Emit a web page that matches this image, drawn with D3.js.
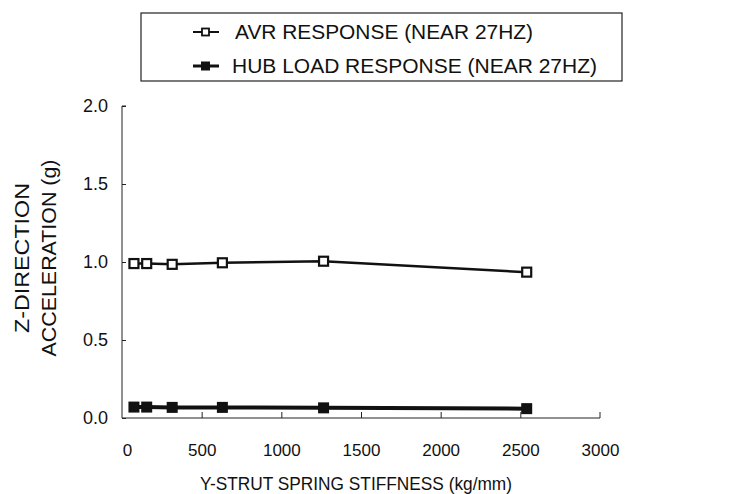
<!DOCTYPE html>
<html>
<head>
<meta charset="utf-8">
<script src="https://cdn.jsdelivr.net/npm/d3@7"></script>
<style>
  body { margin: 0; background: #fff; }
  svg { font-family: "Liberation Sans", Arial, sans-serif; }
</style>
</head>
<body>
<div id="chart"></div>
<script>
// values
var stiffness = [75, 155, 315, 630, 1265, 2540];
var avrResponse = [0.99, 0.99, 0.985, 0.995, 1.005, 0.935];
var hubResponse = [0.07, 0.07, 0.068, 0.068, 0.065, 0.06];
var xTicks = [0, 500, 1000, 1500, 2000, 2500, 3000];
var yTicks = [0, 0.5, 1.0, 1.5, 2.0];
var seriesNames = ["AVR RESPONSE (NEAR 27HZ)", "HUB LOAD RESPONSE (NEAR 27HZ)"];

var W = 729, H = 494;

var svg = d3.select("#chart").append("svg")
    .attr("width", W)
    .attr("height", H);

var x = d3.scaleLinear().domain([0, 3000]).range([122, 600]);
var y = d3.scaleLinear().domain([0, 2]).range([418, 106]);

// axes (ticks pointing inward)
var gx = svg.append("g")
    .attr("transform", "translate(0," + y(0) + ")")
    .call(d3.axisBottom(x).tickValues(xTicks).tickSize(-6).tickPadding(26).tickFormat(d3.format("d")));
gx.select(".domain").attr("d", "M" + x(0) + ",0H" + x(3000) + "V-6").attr("stroke", "#222");
gx.selectAll(".tick line").attr("stroke", "#222");
gx.selectAll(".tick").filter(function(d) { return d === 0 || d === 3000; }).select("line").remove();
gx.selectAll("text").style("font-size", "17px").attr("fill", "#111");
gx.selectAll(".tick").filter(function(d) { return d === 0; }).select("text").attr("x", 5);

var gy = svg.append("g")
    .attr("transform", "translate(" + x(0) + ",0)")
    .call(d3.axisLeft(y).tickValues(yTicks).tickSize(-4).tickPadding(14).tickFormat(d3.format(".1f")));
gy.select(".domain").attr("d", "M4," + y(2) + "H0V" + y(0)).attr("stroke", "#222");
gy.selectAll(".tick line").attr("stroke", "#222");
gy.selectAll("text").style("font-size", "18px").attr("fill", "#111");

// axis titles
svg.append("text")
    .attr("x", 356)
    .attr("y", 490)
    .attr("text-anchor", "middle")
    .style("font-size", "18px")
    .attr("textLength", 312)
    .attr("lengthAdjust", "spacingAndGlyphs")
    .attr("fill", "#111")
    .text("Y-STRUT SPRING STIFFNESS (kg/mm)");

var yt = svg.append("text")
    .attr("transform", "translate(29,258) rotate(-90)")
    .attr("text-anchor", "middle")
    .style("font-size", "20px")
    .attr("fill", "#111");
yt.append("tspan").attr("x", 0).attr("dy", 0)
    .attr("textLength", 150).attr("lengthAdjust", "spacingAndGlyphs")
    .text("Z-DIRECTION");
yt.append("tspan").attr("x", 0).attr("dy", 27)
    .attr("textLength", 197).attr("lengthAdjust", "spacingAndGlyphs")
    .text("ACCELERATION (g)");

// lines
var line = d3.line()
    .x(function(d) { return x(d[0]); })
    .y(function(d) { return y(d[1]); });

var avrData = d3.zip(stiffness, avrResponse);
var hubData = d3.zip(stiffness, hubResponse);

svg.append("path").datum(avrData)
    .attr("d", line)
    .attr("fill", "none")
    .attr("stroke", "#111")
    .attr("stroke-width", 2.5);

svg.append("path").datum(hubData)
    .attr("d", line)
    .attr("fill", "none")
    .attr("stroke", "#111")
    .attr("stroke-width", 4);

// markers
svg.selectAll(".avr").data(avrData).enter().append("rect")
    .attr("x", function(d) { return x(d[0]) - 4.5; })
    .attr("y", function(d) { return y(d[1]) - 4.5; })
    .attr("width", 9).attr("height", 9)
    .attr("fill", "#fff")
    .attr("stroke", "#111")
    .attr("stroke-width", 2.2);

svg.selectAll(".hub").data(hubData).enter().append("rect")
    .attr("x", function(d) { return x(d[0]) - 5.5; })
    .attr("y", function(d) { return y(d[1]) - 5.5; })
    .attr("width", 11).attr("height", 11)
    .attr("fill", "#111");

// legend box
svg.append("rect")
    .attr("x", 141).attr("y", 13)
    .attr("width", 481).attr("height", 68)
    .attr("fill", "none")
    .attr("stroke", "#222")
    .attr("stroke-width", 1.2);

var legY = [32, 66];
var leg = svg.selectAll(".leg").data(seriesNames).enter().append("g")
    .attr("transform", function(d, i) { return "translate(0," + legY[i] + ")"; });

leg.append("line")
    .attr("x1", 193).attr("x2", 219)
    .attr("stroke", "#111")
    .attr("stroke-width", function(d, i) { return i === 0 ? 2 : 3; });

leg.append("rect")
    .attr("x", function(d, i) { return i === 0 ? 202 : 201; })
    .attr("y", function(d, i) { return i === 0 ? -3.5 : -4.5; })
    .attr("width", function(d, i) { return i === 0 ? 7 : 9; })
    .attr("height", function(d, i) { return i === 0 ? 7 : 9; })
    .attr("fill", function(d, i) { return i === 0 ? "#fff" : "#111"; })
    .attr("stroke", "#111")
    .attr("stroke-width", function(d, i) { return i === 0 ? 1.8 : 0; });

leg.append("text")
    .attr("x", function(d, i) { return i === 0 ? 235 : 232; })
    .attr("y", 7)
    .style("font-size", "20px")
    .attr("fill", "#111")
    .attr("textLength", function(d, i) { return i === 0 ? 298 : 365; })
    .attr("lengthAdjust", "spacingAndGlyphs")
    .text(function(d) { return d; });
</script>
</body>
</html>
